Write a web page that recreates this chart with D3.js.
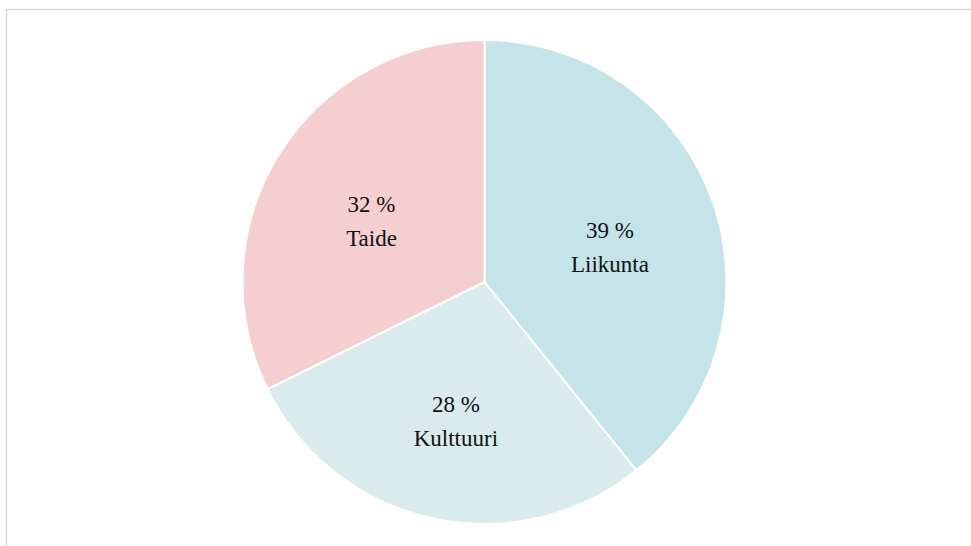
<!DOCTYPE html>
<html>
<head>
<meta charset="utf-8">
<script src="https://cdn.jsdelivr.net/npm/d3@7"></script>
<style>
  html, body { margin: 0; padding: 0; background: #fff; }
  svg { display: block; }
</style>
</head>
<body>
<div id="chart"></div>
<script>
// slice data (clockwise from 12 o'clock)
const categories = ["Liikunta", "Kulttuuri", "Taide"];
const shares = [39.2, 28.5, 32.3];
const labels = ["39 %", "28 %", "32 %"];
const colors = ["#c4e4ea", "#daebed", "#f5cfd0"];

const width = 971, height = 546;
const cx = 484.5, cy = 282, radius = 242;

const svg = d3.select("#chart").append("svg")
    .attr("width", width).attr("height", height);

// chart area frame (only top and left edges are visible)
svg.append("rect")
    .attr("x", 6.5).attr("y", 9.5)
    .attr("width", 1000).attr("height", 600)
    .attr("fill", "none").attr("stroke", "#d9d9d9").attr("stroke-width", 1.5);

const data = categories.map((c, i) => ({ name: c, value: shares[i], label: labels[i], color: colors[i] }));

const pie = d3.pie().value(d => d.value).sort(null);
const arc = d3.arc().innerRadius(0).outerRadius(radius);
const labelArc = d3.arc().innerRadius(133).outerRadius(133);

const g = svg.append("g").attr("transform", `translate(${cx},${cy})`);
const arcs = pie(data);

g.selectAll("path.slice")
    .data(arcs).enter().append("path")
    .attr("class", "slice")
    .attr("d", arc)
    .attr("fill", d => d.data.color)
    .attr("stroke", "#fff").attr("stroke-width", 2);

const lbl = g.selectAll("text.lbl")
    .data(arcs).enter().append("text")
    .attr("class", "lbl")
    .attr("transform", d => {
        const [x, y] = labelArc.centroid(d);
        return `translate(${x},${y + 9})`;
    })
    .attr("text-anchor", "middle")
    .style("font-family", "'Liberation Serif', 'DejaVu Serif', serif")
    .style("font-size", "23px")
    .style("fill", "#111");

lbl.append("tspan").attr("x", 0).attr("dy", "-0.4em").text(d => d.data.label);
lbl.append("tspan").attr("x", 0).attr("dy", "34px").text(d => d.data.name);
</script>
</body>
</html>
